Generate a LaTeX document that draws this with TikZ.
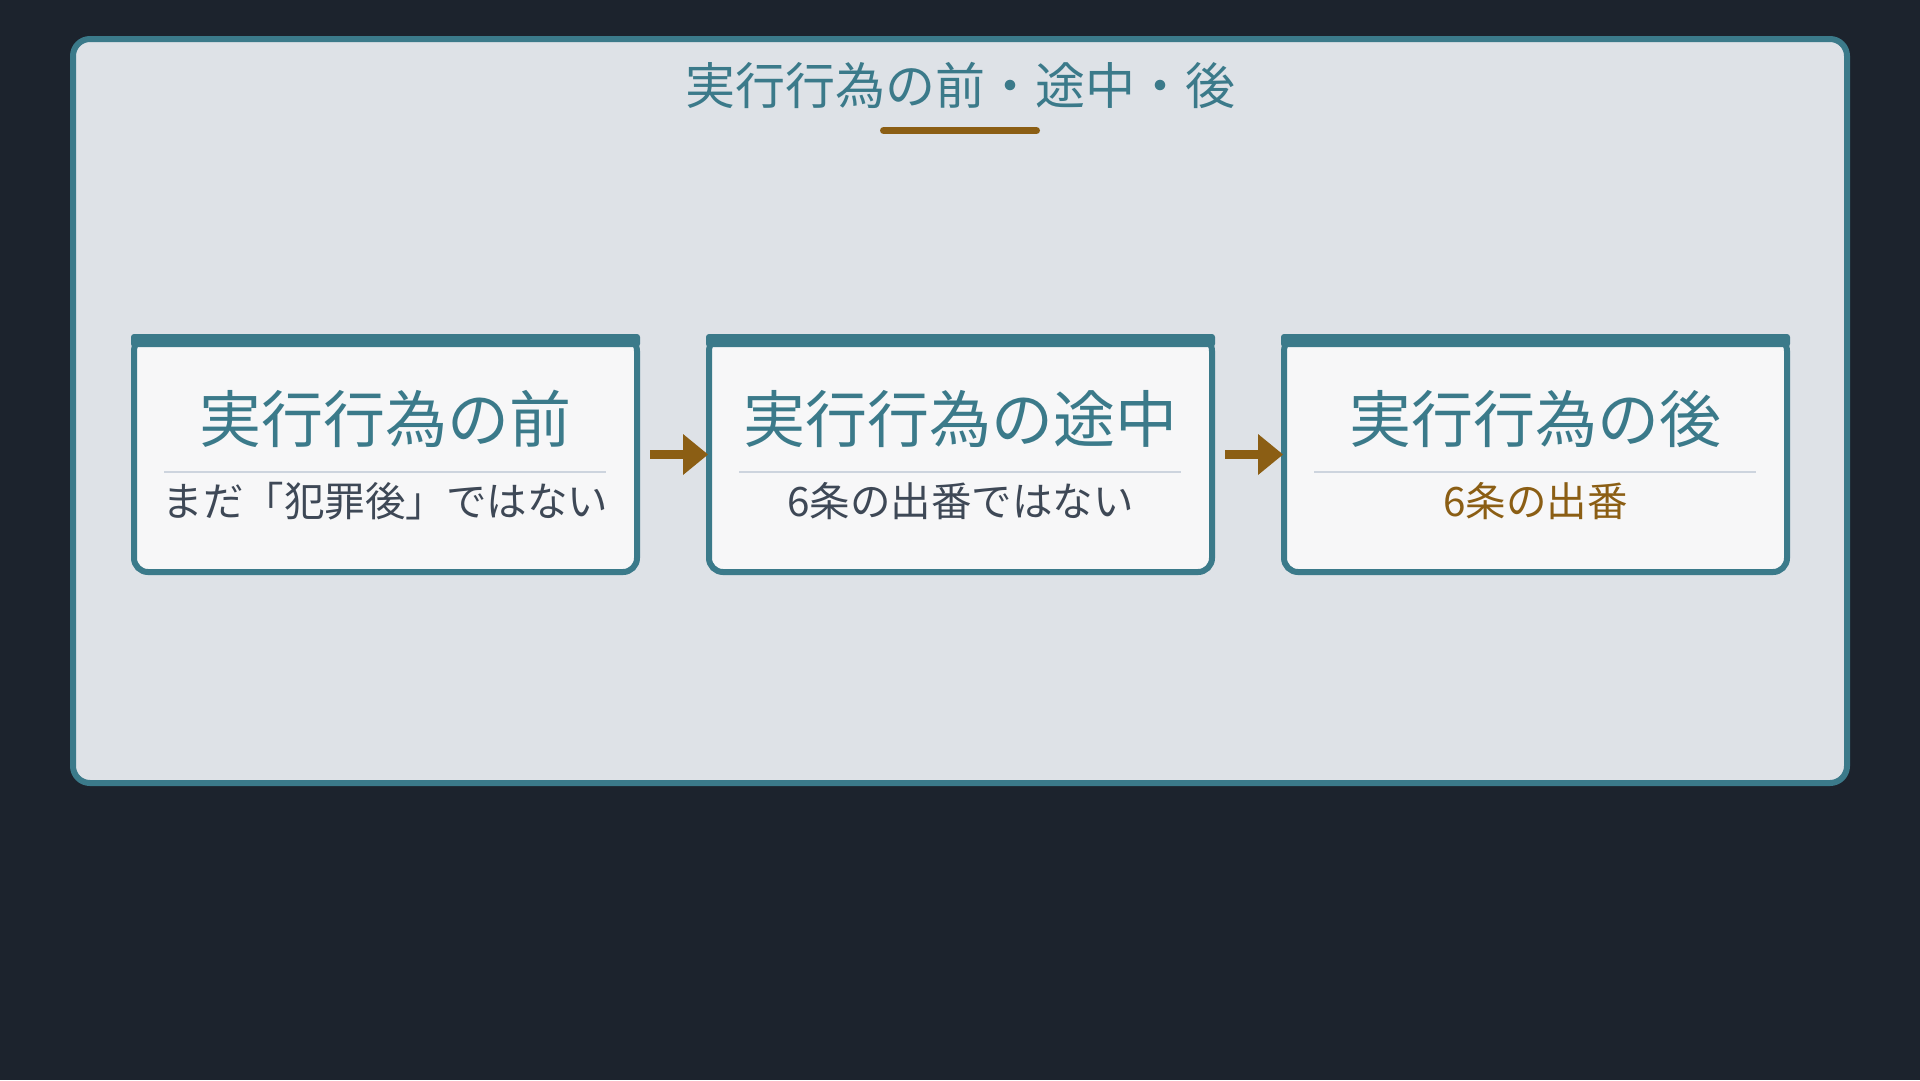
\documentclass[tikz,border=0pt]{standalone}
\usepackage{fontspec}
\setmainfont{Noto Sans CJK JP}
\usetikzlibrary{arrows.meta}
\definecolor{bgdark}{HTML}{1C232D}
\definecolor{panelfill}{HTML}{DEE2E7}
\definecolor{tealc}{HTML}{3B7A8A}
\definecolor{cardfill}{HTML}{F7F7F8}
\definecolor{goldc}{HTML}{8B5E14}
\definecolor{subgray}{HTML}{3E4856}
\definecolor{sepgray}{HTML}{CDD4DE}
\begin{document}
\begin{tikzpicture}[x=1pt,y=-1pt,
  card/.style={draw=tealc, fill=cardfill, line width=6pt, rounded corners=14pt,
    minimum width=503pt, minimum height=235pt, inner sep=0pt, outer sep=0pt},
  topbar/.style={fill=tealc, rounded corners=3pt},
  head/.style={text=tealc, font=\fontsize{62}{70}\selectfont, inner sep=0pt},
  subt/.style={text=subgray, font=\fontsize{40.5}{46}\selectfont, inner sep=0pt},
  sepline/.style={draw=sepgray, line width=2pt},
  flow/.style={draw=goldc, line width=9pt, -{Triangle[length=25pt,width=41pt,line width=0pt]}},
  titletext/.style={text=tealc, font=\fontsize{50}{58}\selectfont, inner sep=0pt},
]
\useasboundingbox (0,0) rectangle (1920,1080);
\fill[bgdark] (0,0) rectangle (1920,1080);
\draw[tealc, line width=6pt, fill=panelfill, rounded corners=17pt] (73,39) rectangle (1847,783);

\node[titletext] (title) at (960,85) {実行行為の前・途中・後};
\draw[goldc, line width=7pt, line cap=round] (883.5,130.5) -- (1036.5,130.5);

% cards
\node[card] (b1) at (385.5,454.5) {};
\node[card] (b2) at (960.5,454.5) {};
\node[card] (b3) at (1535.5,454.5) {};
\foreach \n in {b1,b2,b3}{
  \fill[topbar] ([xshift=-3pt,yshift=3pt]\n.north west) rectangle ([xshift=3pt,yshift=-10pt]\n.north east);
}

\node[head] (h1) at (385.5,419) {実行行為の前};
\node[head] (h2) at (960.5,419) {実行行為の途中};
\node[head] (h3) at (1535.5,419) {実行行為の後};

\draw[sepline] (164,472) -- (606,472);
\draw[sepline] (739,472) -- (1181,472);
\draw[sepline] (1314,472) -- (1756,472);

\node[subt] (s1) at (385.5,501) {まだ「犯罪後」ではない};
\node[subt] (s2) at (960.5,501) {6条の出番ではない};
\node[subt, text=goldc] (s3) at (1535.5,501) {6条の出番};

\draw[flow] ([xshift=13pt]b1.east) -- ([xshift=-1pt]b2.west);
\draw[flow] ([xshift=13pt]b2.east) -- ([xshift=-1pt]b3.west);
\end{tikzpicture}
\end{document}
